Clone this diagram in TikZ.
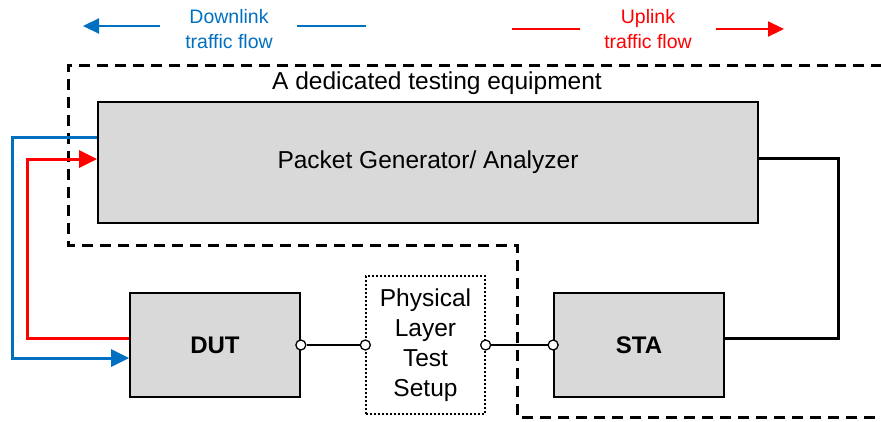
\documentclass[tikz,border=0pt]{standalone}
\usepackage{fontspec}
\setmainfont{Liberation Sans}
\usetikzlibrary{arrows.meta, positioning}
\definecolor{dlblue}{HTML}{0070C0}
\definecolor{ulred}{HTML}{FF0000}
\definecolor{boxgray}{HTML}{D9D9D9}

\begin{document}
\begin{tikzpicture}[x=1pt, y=-1pt,
    block/.style = {draw, fill=boxgray, line width=1.7pt, inner sep=0pt,
                    font=\fontsize{24.5}{30}\selectfont},
    phybox/.style = {draw, line width=1.3pt, dash pattern=on 2pt off 2pt, align=center,
                    inner sep=0pt, font=\fontsize{24.5}{30}\selectfont},
    port/.style = {draw, circle, fill=white, line width=1.3pt, inner sep=0pt, minimum size=10pt},
    link/.style = {line width=1.6pt},
    flow/.style = {line width=3pt, -{Triangle[length=18pt,width=17pt]}},
    legend/.style = {align=center, font=\fontsize{19.5}{25}\selectfont},
    legarrow/.style = {line width=2.2pt, -{Triangle[length=16pt,width=15pt]}}]
      \useasboundingbox (0,0) rectangle (881,421);

      % dedicated testing equipment
      \begin{scope}
        \clip (0,0) rectangle (881,421);
        \draw[line width=3pt, dash pattern=on 11pt off 7pt]
          (900,65) -- (68,65) -- (68,245) -- (517,245) -- (517,417) -- (900,417);
      \end{scope}
      \node[font=\fontsize{24.5}{30}\selectfont] (title) at (437,83) {A dedicated testing equipment};

      % blocks
      \node[block, minimum width=660pt, minimum height=121pt] (pga) at (428,162.5) {};
      \node[font=\fontsize{24.5}{30}\selectfont] (pgatext) at (428,162) {Packet Generator/ Analyzer};
      \node[block, minimum width=170pt, minimum height=104pt, font=\fontsize{24}{30}\bfseries] (dut) at (215,345) {DUT};
      \node[block, minimum width=170pt, minimum height=104pt, font=\fontsize{24}{30}\bfseries] (sta) at (639,345) {STA};
      \node[phybox, minimum width=119pt, minimum height=138pt] (phy) at (425.5,345) {Physical\\Layer\\Test\\Setup};

      % ports
      \node[port] (p1) at (dut.east) {};
      \node[port] (p2) at (phy.west) {};
      \node[port] (p3) at (phy.east) {};
      \node[port] (p4) at (sta.west) {};
      \draw[link] (p1) -- (p2);
      \draw[link] (p3) -- (p4);

      % traffic paths
      \draw[flow, dlblue] ([yshift=25.5pt]pga.west) -- ++(-85,0) |- ([yshift=-13pt]dut.west);
      \draw[flow, ulred] ([yshift=7pt]dut.west) -- ++(-102,0) |- ([yshift=3.5pt]pga.west);
      \draw[line width=3pt] ([yshift=4.5pt]pga.east) -- ++(80,0) |- ([yshift=7pt]sta.east);

      % legend
      \node[legend, text=dlblue] (dl) at (229,29.5) {Downlink\\traffic flow};
      \node[legend, text=ulred] (ul) at (648,29.5) {Uplink\\traffic flow};
      \coordinate (dla) at (160,26);
      \coordinate (dlb) at (83,26);
      \coordinate (dlc) at (297,26);
      \coordinate (dld) at (366,26);
      \coordinate (ula) at (512,29);
      \coordinate (ulb) at (580,29);
      \coordinate (ulc) at (716,29);
      \coordinate (uld) at (784,29);
      \draw[legarrow, dlblue] (dla) -- (dlb);
      \draw[line width=2.2pt, dlblue] (dlc) -- (dld);
      \draw[line width=2.2pt, ulred] (ula) -- (ulb);
      \draw[legarrow, ulred] (ulc) -- (uld);
\end{tikzpicture}
\end{document}
